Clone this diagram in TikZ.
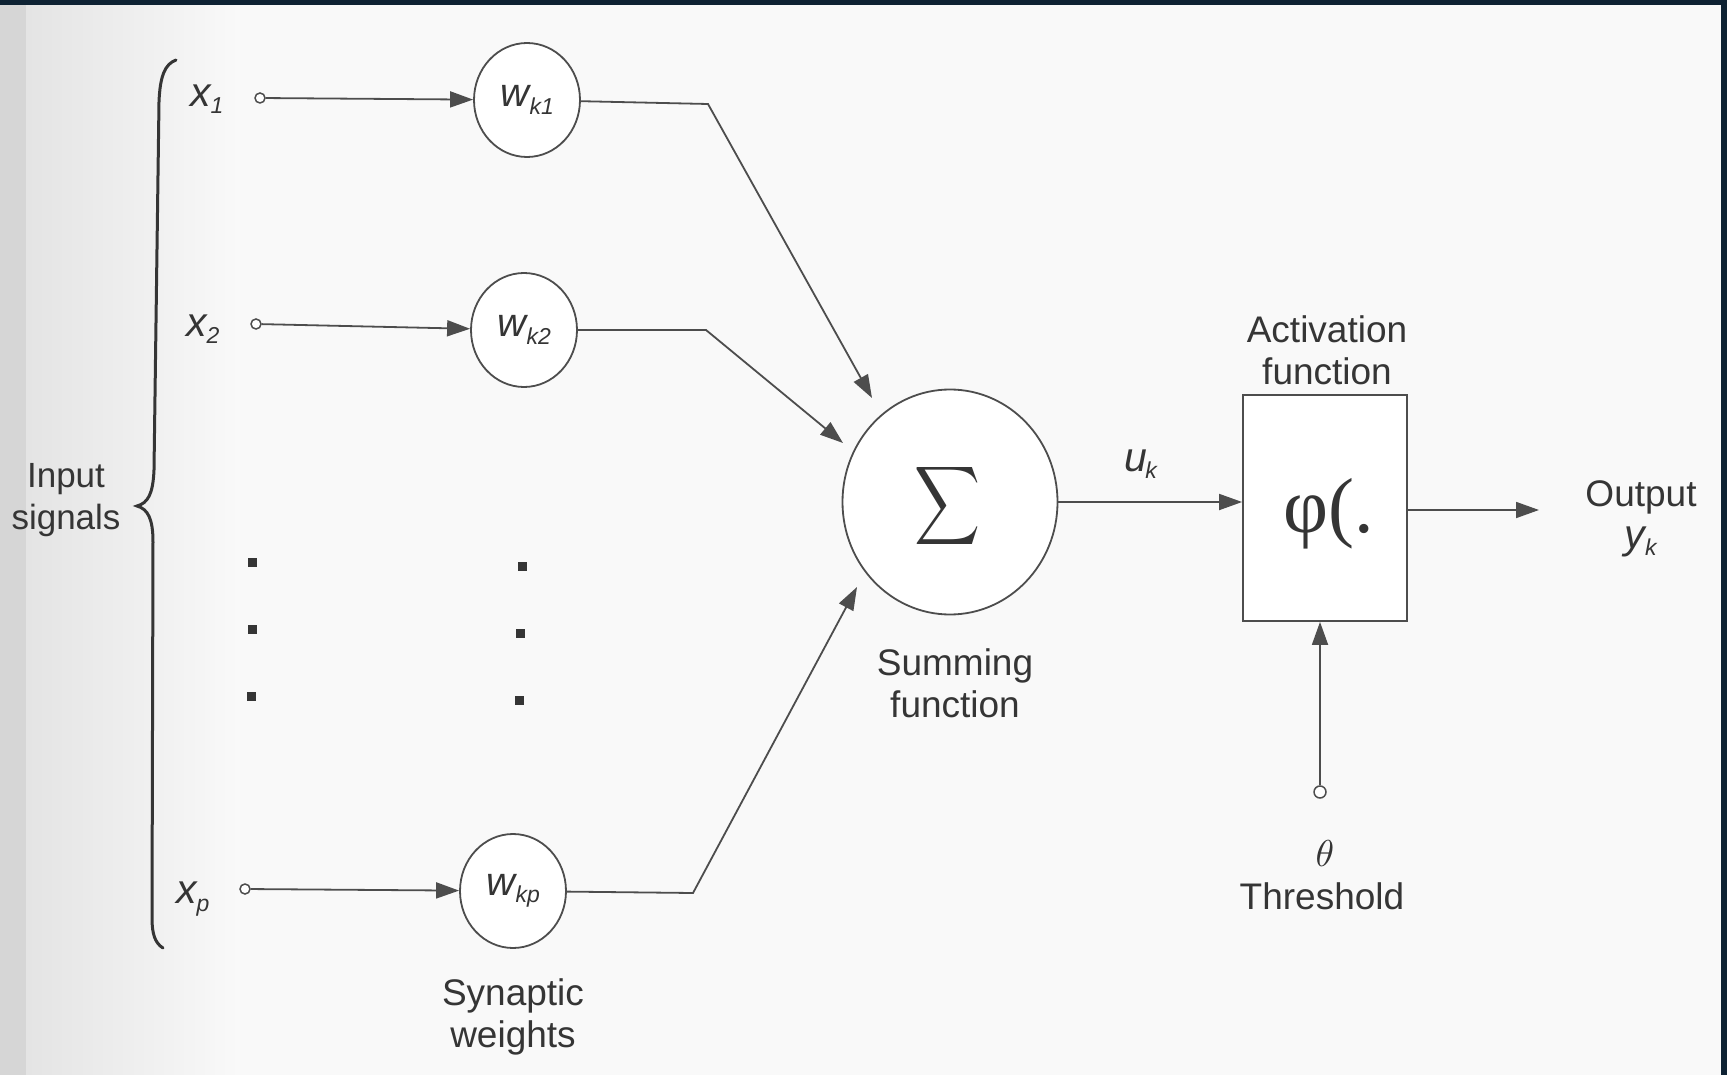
\documentclass[tikz,border=0pt]{standalone}
\usepackage{fontspec}
\setmainfont{Liberation Sans}
\newfontfamily\phifont{Liberation Serif}
\usetikzlibrary{arrows.meta,shapes.geometric}

\definecolor{ink}{HTML}{353535}
\definecolor{wire}{HTML}{4D4D4D}
\definecolor{paper}{HTML}{F9F9F9}
\definecolor{scanband}{HTML}{D6D6D6}
\definecolor{scanfade}{HTML}{E4E4E4}
\definecolor{frame}{HTML}{0E2233}

% italic symbol with a lowered italic index
\newcommand{\idx}[2]{\textit{#1}\kern-0.04em\raisebox{-0.18em}{\fontsize{23}{23}\selectfont\textit{#2}}}

\tikzset{
  lbl/.style={text=ink, inner sep=0pt, font=\fontsize{37}{42}\selectfont},
  sym/.style={text=ink, inner sep=0pt, font=\fontsize{41}{44}\selectfont},
  wnode/.style={ellipse, draw=wire, line width=1.8pt, fill=white,
    minimum width=106pt, minimum height=114pt, inner sep=0pt, text=ink,
    font=\fontsize{40}{44}\selectfont},
  term/.style={circle, draw=wire, fill=white, line width=1.5pt,
    minimum size=10pt, inner sep=0pt},
  wire/.style={draw=wire, line width=1.8pt},
  arr/.style={wire, -{Triangle[length=23pt,width=16pt]}},
}

\begin{document}
\begin{tikzpicture}[x=1pt,y=-1pt]
% page, scan tint and dark frame
\fill[paper] (0,0) rectangle (1727,1075);
\useasboundingbox (0,0) rectangle (1727,1075);
\fill[scanband] (0,0) rectangle (26,1075);
\shade[left color=scanfade, right color=paper] (26,0) rectangle (240,1075);
\fill[frame] (0,0) rectangle (1727,5);
\fill[frame] (1721,0) rectangle (1727,1075);

% input brace
\draw[ink, line width=3pt, line cap=round]
  (176,60) .. controls (165,64) and (160,76) .. (159,102)
  -- (154,470) .. controls (153,494) and (148,503) .. (137,506)
  .. controls (148,509) and (153,519) .. (153,542)
  -- (152,918) .. controls (152,934) and (155,943) .. (163,948);
\node[lbl, align=center, font=\fontsize{35}{42}\selectfont] (insig) at (66,500) {Input\\signals};

% input labels and terminals
\node[sym] (x1) at (207,99) {\idx{x}{1}};
\node[sym] (x2) at (203,329) {\idx{x}{2}};
\node[sym] (xp) at (193,899) {\idx{x}{p}};
\node[term] (t1) at (260,98) {};
\node[term] (t2) at (256,324) {};
\node[term] (tp) at (245,889) {};

% synaptic weights
\node[wnode] (w1) at (527,100) {\idx{w}{k1}};
\node[wnode] (w2) at (524,330) {\idx{w}{k2}};
\node[wnode] (wp) at (513,891) {\idx{w}{kp}};
\node[lbl, align=center] (synw) at (513,1017) {Synaptic\\weights};

\draw[arr] (t1) -- (w1);
\draw[arr] (t2) -- (w2);
\draw[arr] (tp) -- (wp);

% ellipsis dots
\foreach \cx/\cy in {252/562, 252/629, 251/696, 522/566, 520/633, 519/700}
  \fill[ink] (\cx-4.5,\cy-4.5) rectangle (\cx+4.5,\cy+4.5);

% summing junction
\node[ellipse, draw=wire, line width=1.8pt, fill=white,
  minimum width=215pt, minimum height=225pt] (sum) at (950,502) {};
\node[text=ink] (sigma) at (948,506) {\resizebox*{66pt}{88pt}{$\displaystyle\sum$}};
\node[lbl, align=center] (sumlbl) at (955,683) {Summing\\function};

\coordinate (c1) at (708,104);
\coordinate (c2) at (706,330);
\coordinate (cp) at (693,893);
\coordinate (h1) at (872,398);
\coordinate (h2) at (843,443);
\coordinate (hp) at (857,587);
\draw[arr] (w1) -- (c1) -- (h1);
\draw[arr] (w2) -- (c2) -- (h2);
\draw[arr] (wp) -- (cp) -- (hp);

% activation function
\node[draw=wire, line width=1.8pt, fill=white, minimum width=164pt,
  minimum height=226pt, inner sep=0pt] (act) at (1325,508) {};
\node[text=ink, inner sep=0pt, font=\fontsize{78}{78}\selectfont\phifont] (phi) at (1329,514) {φ(.};
\node[lbl, align=center] (actlbl) at (1327,350) {Activation\\function};

\draw[arr] (sum) -- (act.west |- sum);
\node[sym] (uk) at (1141,464) {\idx{u}{k}};

% output
\coordinate (oend) at (1539,510);
\draw[arr] (act.east |- oend) -- (oend);
\node[lbl] (outlbl) at (1641,497) {Output};
\node[sym] (yk) at (1641,542) {\idx{y}{k}};

% threshold
\node[term, minimum size=12pt] (th) at (1320,792) {};
\draw[arr] (th) -- (th |- act.south);
\node[text=ink, inner sep=0pt] (theta) at (1325,853) {\resizebox{!}{26pt}{$\theta$}};
\node[lbl] (thlbl) at (1322,896) {Threshold};
\end{tikzpicture}
\end{document}
